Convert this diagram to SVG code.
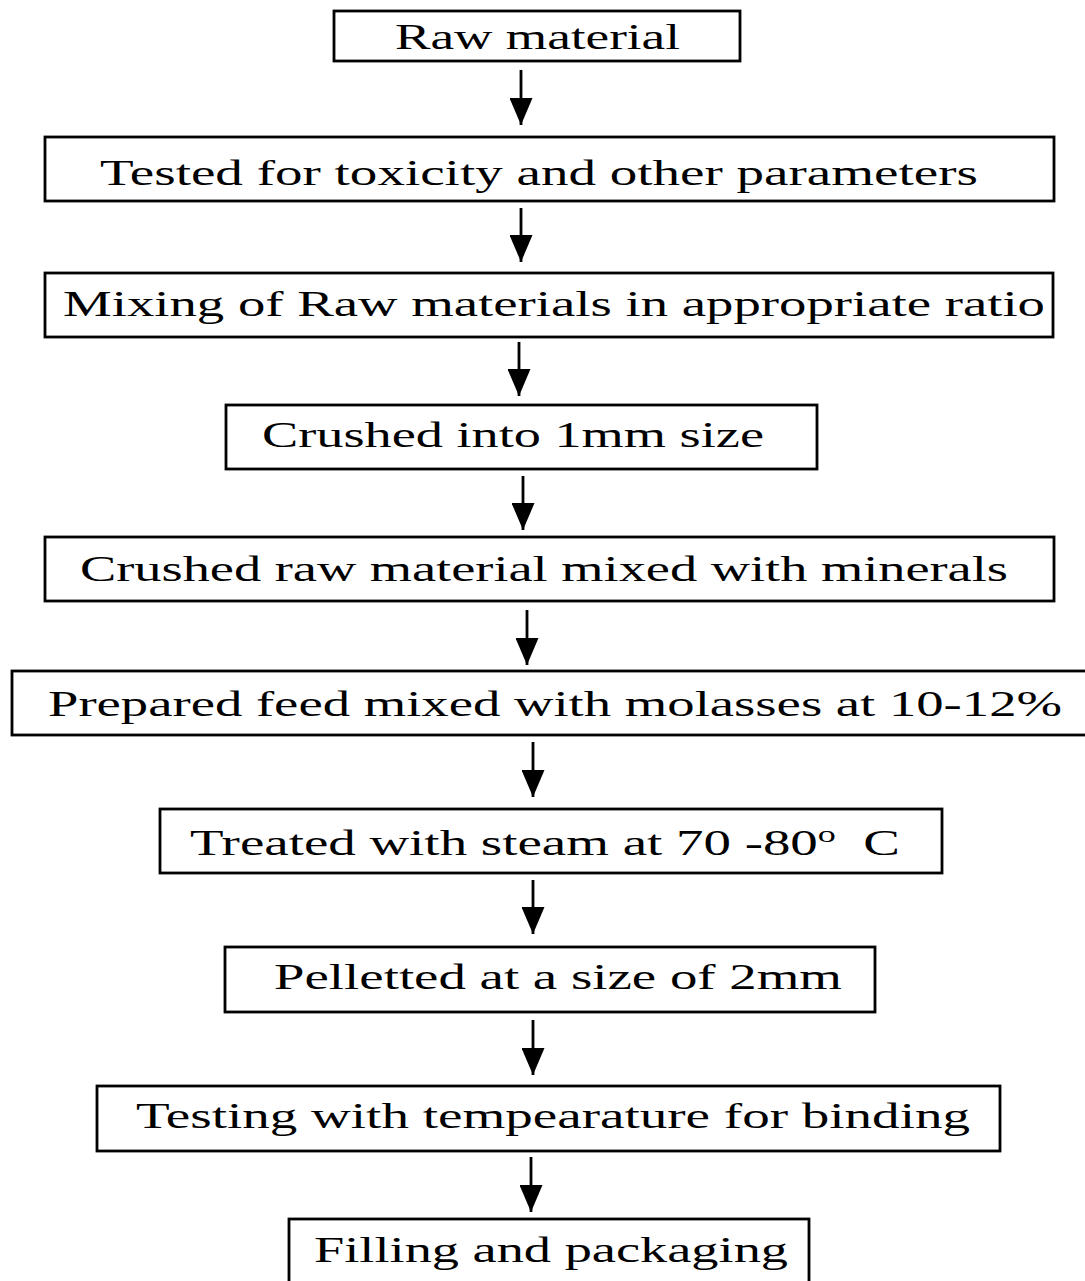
<svg xmlns="http://www.w3.org/2000/svg" width="1085" height="1281" viewBox="0 0 1085 1281">
<style>
.box{fill:#fff;stroke:#000;stroke-width:2.8}
.lbl{font-family:"Liberation Serif","Times New Roman",serif;font-size:35px;fill:#000}
.con{stroke:#000;stroke-width:2.8;fill:none}
</style>
<defs>
<marker id="ah" viewBox="0 0 27 23" refX="27" refY="11.5" markerWidth="27" markerHeight="23" markerUnits="userSpaceOnUse" orient="auto">
<path d="M0,0 L27,11.5 L0,23 Z" fill="#000"/>
</marker>
</defs>
<rect width="1085" height="1281" fill="#fff"/>
<g id="connectors">
<path class="con" d="M521,70 V125" marker-end="url(#ah)"/>
<path class="con" d="M521,208 V262" marker-end="url(#ah)"/>
<path class="con" d="M519,342 V396" marker-end="url(#ah)"/>
<path class="con" d="M523,476 V530" marker-end="url(#ah)"/>
<path class="con" d="M527,610 V665" marker-end="url(#ah)"/>
<path class="con" d="M533,742 V797" marker-end="url(#ah)"/>
<path class="con" d="M533,880 V934" marker-end="url(#ah)"/>
<path class="con" d="M533,1020 V1075" marker-end="url(#ah)"/>
<path class="con" d="M531,1157 V1212" marker-end="url(#ah)"/>
</g>
<g id="n1"><rect class="box" x="334" y="11" width="406" height="50"/>
<text class="lbl" x="395" y="49" textLength="285" lengthAdjust="spacingAndGlyphs">Raw material</text></g>
<g id="n2"><rect class="box" x="45" y="137" width="1009" height="64"/>
<text class="lbl" x="100" y="185" textLength="878" lengthAdjust="spacingAndGlyphs">Tested for toxicity and other parameters</text></g>
<g id="n3"><rect class="box" x="45" y="273" width="1008" height="64"/>
<text class="lbl" x="63" y="316" textLength="982" lengthAdjust="spacingAndGlyphs">Mixing of Raw materials in appropriate ratio</text></g>
<g id="n4"><rect class="box" x="226" y="405" width="591" height="64"/>
<text class="lbl" x="262" y="447" textLength="502" lengthAdjust="spacingAndGlyphs">Crushed into 1mm size</text></g>
<g id="n5"><rect class="box" x="45" y="537" width="1009" height="64"/>
<text class="lbl" x="80" y="581" textLength="928" lengthAdjust="spacingAndGlyphs">Crushed raw material mixed with minerals</text></g>
<g id="n6"><rect class="box" x="12" y="671" width="1075" height="64"/>
<text class="lbl" x="48" y="716" textLength="1014" lengthAdjust="spacingAndGlyphs">Prepared feed mixed with molasses at 10-12%</text></g>
<g id="n7"><rect class="box" x="160" y="809" width="782" height="64"/>
<text class="lbl" x="190" y="855" textLength="710" lengthAdjust="spacingAndGlyphs" xml:space="preserve">Treated with steam at 70 -80<tspan font-size="23" dy="-13">o</tspan><tspan dy="13">  C</tspan></text></g>
<g id="n8"><rect class="box" x="225" y="947" width="650" height="65"/>
<text class="lbl" x="274" y="989" textLength="568" lengthAdjust="spacingAndGlyphs">Pelletted at a size of 2mm</text></g>
<g id="n9"><rect class="box" x="97" y="1086" width="903" height="65"/>
<text class="lbl" x="136" y="1128" textLength="834" lengthAdjust="spacingAndGlyphs">Testing with tempearature for binding</text></g>
<g id="n10"><rect class="box" x="289" y="1219" width="520" height="70"/>
<text class="lbl" x="314" y="1262" textLength="474" lengthAdjust="spacingAndGlyphs">Filling and packaging</text></g>
</svg>
